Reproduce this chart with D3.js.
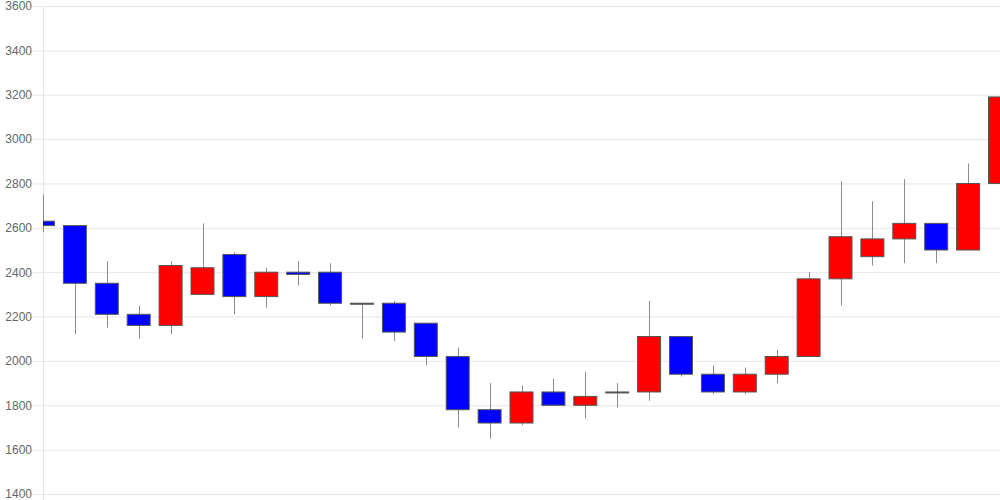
<!DOCTYPE html>
<html>
<head>
<meta charset="utf-8">
<script src="https://cdn.jsdelivr.net/npm/d3@7"></script>
<style>
  html, body { margin: 0; padding: 0; background: #fff; }
  svg { display: block; }
</style>
</head>
<body>
<svg id="chart" width="1000" height="500"></svg>
<script>
const opens  = [2630,2610,2350,2210,2160,2300,2480,2290,2400,2400,2260,2260,2170,2020,1780,1720,1860,1800,1860,1860,2110,1940,1860,1940,2020,2370,2470,2550,2620,2500,2800];
const closes = [2610,2350,2210,2160,2430,2420,2290,2400,2390,2260,2260,2130,2020,1780,1720,1860,1800,1840,1860,2110,1940,1860,1940,2020,2370,2560,2550,2620,2500,2800,3190];
const highs  = [2750,2610,2450,2250,2450,2620,2490,2420,2450,2440,2260,2270,2170,2060,1900,1890,1920,1950,1900,2270,2110,1980,1970,2050,2400,2810,2720,2820,2620,2890,3400];
const lows   = [2580,2120,2150,2100,2120,2300,2210,2240,2340,2250,2100,2090,1980,1700,1650,1710,1800,1740,1790,1820,1930,1850,1850,1900,2020,2250,2430,2440,2440,2500,2800];
const yTicks = [1400,1600,1800,2000,2200,2400,2600,2800,3000,3200,3400,3600];

(function () {
const svg = d3.select("#chart");
const mLeft = 43, mRight = 1000, mTop = 6, mBottom = 494;

const idx = d3.range(opens.length);
const x = d3.scalePoint().domain(idx).range([mLeft, mRight]);
const y = d3.scaleLinear().domain([1400, 3600]).range([mBottom, mTop]);
const step = x.step();
const bw = step * 0.72;

// grid + axis
const yAxis = d3.axisLeft(y).tickValues(yTicks).tickSize(10).tickPadding(2).tickFormat(d3.format("d"));
const ag = svg.append("g").attr("transform", `translate(${mLeft},0)`).call(yAxis);
ag.select(".domain").remove();
ag.selectAll(".tick line").attr("stroke", "#e6e6e6").attr("x1", -10).attr("x2", mRight - mLeft);
ag.selectAll(".tick text").attr("fill", "#666").attr("font-family", "Liberation Sans, Arial, sans-serif").attr("font-size", 12).attr("x", -11);

svg.append("line").attr("x1", mLeft + 0.5).attr("x2", mLeft + 0.5).attr("y1", mTop).attr("y2", mBottom + 6).attr("stroke", "#e6e6e6");

svg.append("clipPath").attr("id", "clip").append("rect")
  .attr("x", mLeft).attr("y", 0).attr("width", mRight - mLeft).attr("height", 500);

const g = svg.append("g").attr("clip-path", "url(#clip)");
const c = g.selectAll("g.c").data(idx).join("g").attr("class", "c");

c.append("line")
  .attr("x1", i => Math.round(x(i)) + 0.5).attr("x2", i => Math.round(x(i)) + 0.5)
  .attr("y1", i => y(highs[i])).attr("y2", i => y(lows[i]))
  .attr("stroke", "#8c8c8c").attr("stroke-width", 1);

c.append("rect")
  .attr("x", i => x(i) - bw / 2)
  .attr("width", bw)
  .attr("y", i => y(Math.max(opens[i], closes[i])))
  .attr("height", i => Math.max(1, Math.abs(y(opens[i]) - y(closes[i]))))
  .attr("fill", i => closes[i] > opens[i] ? "#ff0000" : (closes[i] < opens[i] ? "#0000ff" : "#777"))
  .attr("stroke", "#555").attr("stroke-width", 1);
})();
</script>
</body>
</html>
